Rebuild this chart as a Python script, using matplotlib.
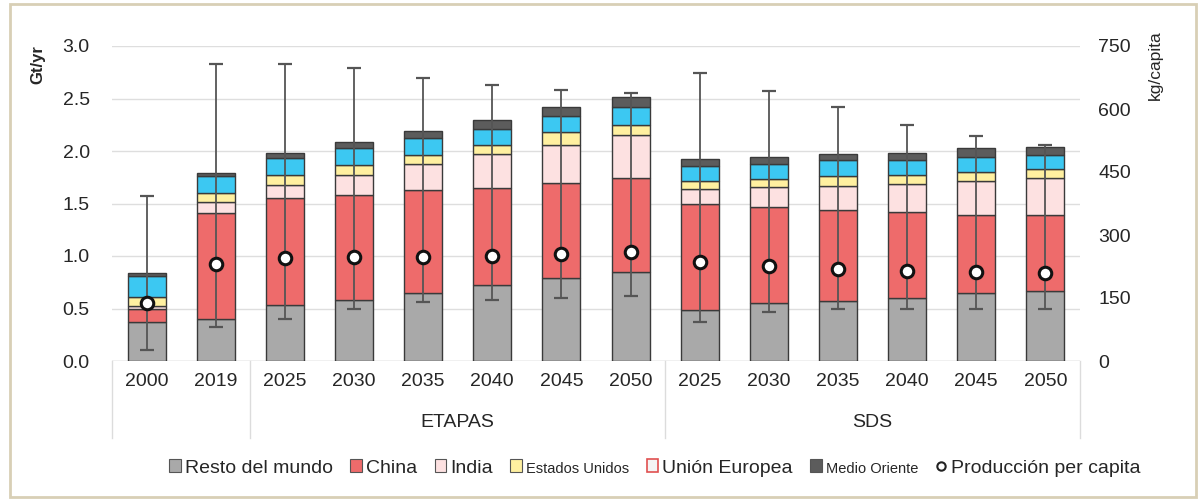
import matplotlib
matplotlib.use('Agg')
import matplotlib.pyplot as plt
import numpy as np
from matplotlib.patches import Rectangle
from matplotlib.lines import Line2D

plt.rcParams['font.family'] = ['Liberation Sans', 'DejaVu Sans']

# ===== datos (Gt/yr por región, producción per capita en kg/capita) =====
years = ['2000', '2019', '2025', '2030', '2035', '2040', '2045', '2050',
         '2025', '2030', '2035', '2040', '2045', '2050']
group_names = ['ETAPAS', 'SDS']

resto = [0.37, 0.40, 0.53, 0.58, 0.65, 0.72, 0.79, 0.85,
         0.49, 0.55, 0.57, 0.60, 0.645, 0.667]
china = [0.13, 1.01, 1.02, 1.00, 0.98, 0.93, 0.91, 0.89,
         1.01, 0.92, 0.866, 0.815, 0.75, 0.728]
india = [0.02, 0.10, 0.13, 0.19, 0.247, 0.317, 0.36, 0.41,
         0.135, 0.185, 0.227, 0.271, 0.322, 0.345]
eeuu = [0.09, 0.09, 0.09, 0.10, 0.086, 0.086, 0.118, 0.096,
        0.08, 0.075, 0.103, 0.084, 0.083, 0.086]
ue = [0.20, 0.16, 0.16, 0.16, 0.158, 0.159, 0.152, 0.174,
      0.14, 0.15, 0.144, 0.144, 0.145, 0.134]
medio_oriente = [0.03, 0.03, 0.05, 0.06, 0.073, 0.084, 0.089, 0.095,
                 0.073, 0.065, 0.066, 0.066, 0.08, 0.075]

per_capita = [137, 232, 245, 248, 247, 250, 255, 260,
              236, 226, 219, 215, 212, 210]
pc_min = [26, 80, 99, 125, 141, 145, 149, 155,
          93, 117, 125, 125, 125, 125]
pc_max = [393, 706, 706, 698, 673, 657, 645, 637,
          686, 643, 605, 562, 536, 514]

series = [
    ('Resto del mundo', resto, '#a9a9a9'),
    ('China', china, '#ee6b6b'),
    ('India', india, '#fde1e1'),
    ('Estados Unidos', eeuu, '#fff0a0'),
    ('Unión Europea', ue, '#3cc8f2'),
    ('Medio Oriente', medio_oriente, '#5c5c5c'),
]

W, H = 1199, 500
fig = plt.figure(figsize=(W / 100, H / 100), dpi=100)
ax = fig.add_axes([112 / W, 1 - 361 / H, (1080 - 112) / W, 315 / H])

x = np.arange(len(years))
bottom = np.zeros(len(years))
for label, vals, color in series:
    vals = np.array(vals)
    ax.bar(x, vals, 0.55, bottom=bottom, color=color, edgecolor='#3a3a3a',
           linewidth=1, zorder=3)
    bottom += vals

ax.set_xlim(-0.5, len(years) - 0.5)
ax.set_ylim(0, 3.0)
ax.set_yticks(np.arange(0, 3.01, 0.5))
ax.set_yticklabels([f'{v:.1f}' for v in np.arange(0, 3.01, 0.5)])
ax.grid(axis='y', color='#dedede', linewidth=1, zorder=0)
ax.set_axisbelow(True)
for s in ax.spines.values():
    s.set_visible(False)
ax.set_xticks(x)
ax.set_xticklabels(years)
ax.tick_params(axis='both', length=0, labelsize=14, colors='#262626')
ax.tick_params(axis='y', pad=16)
ax.tick_params(axis='x', pad=9)

# linea base y separadores de categorías
ax.axhline(0, color='#d4d4d4', linewidth=1, zorder=2)
for xs in [-0.5, 1.5, 7.5, len(years) - 0.5]:
    ax.plot([xs, xs], [0, -0.245], transform=ax.get_xaxis_transform(),
            color='#dcdcdc', linewidth=1, clip_on=False)
ax.text(4.5, -0.195, group_names[0], transform=ax.get_xaxis_transform(),
        ha='center', va='center', fontsize=14, color='#262626')
ax.text(10.5, -0.195, group_names[1], transform=ax.get_xaxis_transform(),
        ha='center', va='center', fontsize=14, color='#262626')

# eje secundario: producción per capita
ax2 = ax.twinx()
pc = np.array(per_capita)
ax2.errorbar(x, pc, yerr=[pc - np.array(pc_min), np.array(pc_max) - pc],
             fmt='none', ecolor='#555555', elinewidth=1.3, capsize=5,
             capthick=1.6, zorder=4)
ax2.plot(x, pc, 'o', mfc='white', mec='#111111', mew=2.2, ms=9, zorder=5)
ax2.set_ylim(0, 750)
ax2.set_yticks(range(0, 751, 150))
for s in ax2.spines.values():
    s.set_visible(False)
ax2.tick_params(axis='y', length=0, labelsize=14, colors='#262626', pad=13)

fig.text(38 / W, 1 - 65 / H, 'Gt/yr', rotation=90, ha='center', va='center',
         fontsize=12, fontweight='bold', color='#262626')
fig.text(1155 / W, 1 - 65 / H, 'kg/capita', rotation=90, ha='center',
         va='center', fontsize=12.5, color='#262626')

# leyenda
handles = []
for label, vals, color in series:
    if label == 'Unión Europea':
        handles.append(Rectangle((0, 0), 1, 1, facecolor='#f4f4f4',
                                 edgecolor='#e05050', linewidth=1.2))
    else:
        handles.append(Rectangle((0, 0), 1, 1, facecolor=color,
                                 edgecolor='#555555', linewidth=0.8))
handles.append(Line2D([], [], marker='o', linestyle='none', mfc='white',
                      mec='#222222', mew=1.5, ms=6))
labels = [s[0] for s in series] + ['Producción per capita']
leg = fig.legend(handles, labels, loc='center',
                 bbox_to_anchor=(655 / W, 1 - 468 / H), ncol=7,
                 frameon=False, fontsize=14, handlelength=0.6,
                 handleheight=0.6, handletextpad=0.2, columnspacing=0.9,
                 borderaxespad=0)
for i in (3, 5):
    leg.get_texts()[i].set_fontsize(10.5)
for t in leg.get_texts():
    t.set_color('#262626')

# marco de la imagen
fig.patches.append(Rectangle((10 / W, 3 / H), 1186 / W, 493 / H,
                             transform=fig.transFigure, fill=False,
                             edgecolor='#d8cfb6', linewidth=2))

fig.savefig('out.png', dpi=100)
